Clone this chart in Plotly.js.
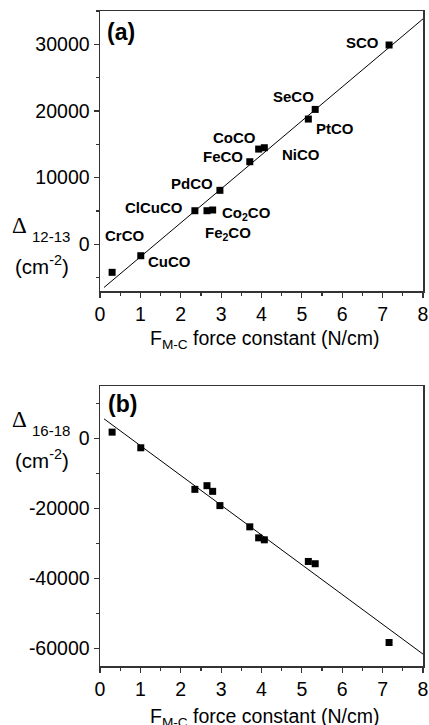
<!DOCTYPE html>
<html>
<head>
<meta charset="utf-8">
<script src="https://cdn.plot.ly/plotly-3.0.1.min.js"></script>
<style>html,body{margin:0;padding:0;background:#fff;}#chart{width:429px;height:725px;}</style>
</head>
<body>
<div id="chart"></div>
<script>
// ---- data ----
const compounds = ['CrCO','CuCO','ClCuCO','Fe<sub>2</sub>CO','Co<sub>2</sub>CO','PdCO','FeCO','CoCO','NiCO','PtCO','SeCO','SCO'];
const forceConstant = [0.30, 1.01, 2.35, 2.65, 2.79, 2.97, 3.71, 3.93, 4.07, 5.16, 5.33, 7.16];
const delta1213 = [-4200, -1710, 5040, 5040, 5150, 8100, 12390, 14290, 14490, 18790, 20240, 29900];
const delta1618 = [1820, -2650, -14530, -13480, -15100, -19170, -25240, -28380, -28950, -35130, -35780, -58290];
const xTickVals = [0, 1, 2, 3, 4, 5, 6, 7, 8];
const yTickValsA = [0, 10000, 20000, 30000];
const yTickValsB = [-60000, -40000, -20000, 0];
const fitSpan = [0.1, 8];

// ---- styling ----
const FONT = 'Liberation Sans, Arial, Helvetica, sans-serif';
const W = 429, H = 725;
const M = {l: 100, r: 6, t: 11, b: 59};
const plotH = H - M.t - M.b, plotW = W - M.l - M.r;
const py = p => (H - M.b - p) / plotH;   // pixel row -> paper y
const px = p => (p - M.l) / plotW;       // pixel col -> paper x

// label placement (by compound index): anchor + pixel offsets
const labelStyle = [
  {xa: 'left',  dx: -9,  dy: 37},   // CrCO
  {xa: 'left',  dx: 5,   dy: -6},   // CuCO
  {xa: 'right', dx: -10, dy: 3},    // ClCuCO
  {xa: 'left',  dx: -4,  dy: -23},  // Fe2CO
  {xa: 'left',  dx: 7,   dy: -3},   // Co2CO
  {xa: 'right', dx: -5,  dy: 7},    // PdCO
  {xa: 'right', dx: -5,  dy: 5},    // FeCO
  {xa: 'right', dx: -1,  dy: 12},   // CoCO
  {xa: 'left',  dx: 16,  dy: -7},   // NiCO
  {xa: 'left',  dx: 6,   dy: -9},   // PtCO
  {xa: 'right', dx: 1,   dy: 13},   // SeCO
  {xa: 'right', dx: -8,  dy: 3}     // SCO
];

function linFit(x, y) {
  const n = x.length;
  const mx = x.reduce((a, b) => a + b, 0) / n;
  const my = y.reduce((a, b) => a + b, 0) / n;
  let sxx = 0, sxy = 0;
  for (let i = 0; i < n; i++) { sxx += (x[i] - mx) ** 2; sxy += (x[i] - mx) * (y[i] - my); }
  const b = sxy / sxx, a = my - b * mx;
  return fitSpan.map(v => a + b * v);
}

const marker = {symbol: 'square', size: 7, color: '#000'};
const traces = [
  {x: fitSpan, y: linFit(forceConstant, delta1213), mode: 'lines', line: {color: '#000', width: 1}, xaxis: 'x', yaxis: 'y', hoverinfo: 'skip'},
  {x: forceConstant, y: delta1213, mode: 'markers', marker: marker, xaxis: 'x', yaxis: 'y'},
  {x: fitSpan, y: linFit(forceConstant, delta1618), mode: 'lines', line: {color: '#000', width: 1}, xaxis: 'x2', yaxis: 'y2', hoverinfo: 'skip'},
  {x: forceConstant, y: delta1618, mode: 'markers', marker: marker, xaxis: 'x2', yaxis: 'y2'}
];

const tickFont = {family: FONT, size: 19.5, color: '#000'};
function axisBase() {
  return {
    showline: true, linecolor: '#333', linewidth: 1.5, mirror: true,
    ticks: 'outside', ticklen: 5, tickwidth: 1.2, tickcolor: '#333',
    showgrid: false, zeroline: false, tickfont: tickFont, tickmode: 'array'
  };
}
function xAxis(domainAnchor) {
  return Object.assign(axisBase(), {
    range: [0, 8], tickvals: xTickVals, ticktext: xTickVals.map(String),
    minor: {tickmode: 'linear', tick0: 0, dtick: 0.5, ticks: 'outside', ticklen: 3, tickcolor: '#333', tickwidth: 1.2, showgrid: false},
    anchor: domainAnchor
  });
}
function yAxis(range, vals, minorStep, domain, anchor) {
  return Object.assign(axisBase(), {
    range: range, tickvals: vals, ticktext: vals.map(String), domain: domain, anchor: anchor,
    minor: {tickmode: 'linear', tick0: 0, dtick: minorStep, ticks: 'outside', ticklen: 3, tickcolor: '#333', tickwidth: 1.2, showgrid: false}
  });
}

const annotations = [];
// point labels (top panel)
compounds.forEach((c, i) => {
  const s = labelStyle[i];
  annotations.push({
    x: forceConstant[i], y: delta1213[i], xref: 'x', yref: 'y',
    text: '<b>' + c + '</b>', showarrow: false, xanchor: s.xa, yanchor: 'middle',
    xshift: s.dx, yshift: s.dy, font: {family: FONT, size: 15, color: '#000'}
  });
});
// panel tags
annotations.push({xref: 'paper', yref: 'paper', x: px(121), y: py(32), text: '<b>(a)</b>', showarrow: false, xanchor: 'center', yanchor: 'middle', font: {family: FONT, size: 23, color: '#000'}});
annotations.push({xref: 'paper', yref: 'paper', x: px(122), y: py(404), text: '<b>(b)</b>', showarrow: false, xanchor: 'center', yanchor: 'middle', font: {family: FONT, size: 23, color: '#000'}});
// x-axis titles
const xTitle = 'F<sub>M-C</sub> force constant (N/cm)';
[[337], [715]].forEach(([cy]) => {
  annotations.push({xref: 'paper', yref: 'paper', x: px(265), y: py(cy), text: xTitle, showarrow: false, xanchor: 'center', yanchor: 'middle', yshift: -2, font: {family: FONT, size: 19.5, color: '#000'}});
});
// y-axis titles (horizontal, left)
function yTitle(sub, top) {
  annotations.push({xref: 'paper', yref: 'paper', x: px(19.5), y: py(top + 7), text: '\u0394', showarrow: false, xanchor: 'center', yanchor: 'middle', font: {family: 'Liberation Serif, Times New Roman, serif', size: 23, color: '#000'}});
  annotations.push({xref: 'paper', yref: 'paper', x: px(51), y: py(top + 18), text: sub, showarrow: false, xanchor: 'center', yanchor: 'middle', font: {family: FONT, size: 15, color: '#000'}});
  annotations.push({xref: 'paper', yref: 'paper', x: px(42), y: py(top + 47), text: '(cm<sup>-2</sup>)', showarrow: false, xanchor: 'center', yanchor: 'middle', font: {family: FONT, size: 20.5, color: '#000'}});
}
yTitle('12-13', 218);
yTitle('16-18', 412);

const layout = {
  width: W, height: H, margin: M, showlegend: false,
  paper_bgcolor: '#fff', plot_bgcolor: '#fff',
  font: {family: FONT, color: '#000'},
  xaxis: xAxis('y'),
  yaxis: yAxis([-7000, 35000], yTickValsA, 5000, [py(291), 1], 'x'),
  xaxis2: xAxis('y2'),
  yaxis2: yAxis([-65000, 15000], yTickValsB, 10000, [0, py(386)], 'x2'),
  annotations: annotations
};

Plotly.newPlot('chart', traces, layout, {displayModeBar: false, staticPlot: true});
</script>
</body>
</html>
